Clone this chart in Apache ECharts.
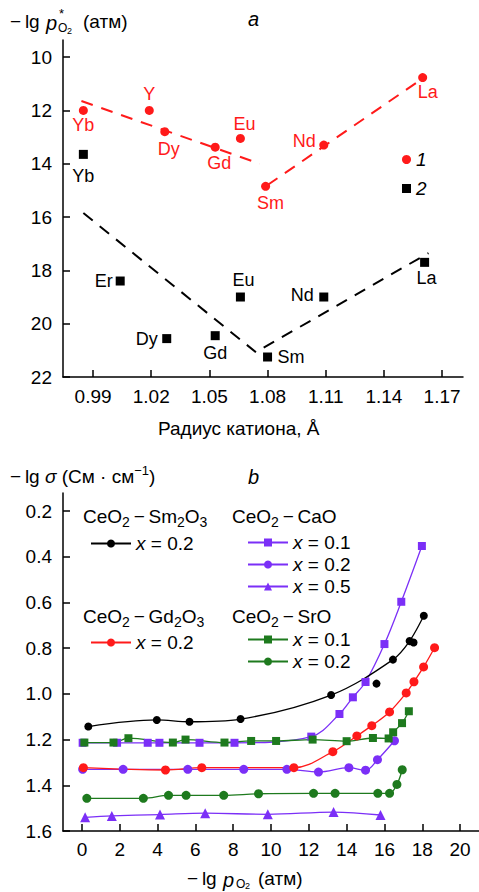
<!DOCTYPE html>
<html><head><meta charset="utf-8">
<script src="https://cdn.jsdelivr.net/npm/echarts@6/dist/echarts.min.js"></script>
<style>html,body{margin:0;padding:0;background:#fff}#c{width:479px;height:892px}</style>
</head><body><div id="c"></div>
<script>
// ---------- Panel a ----------
const cationsRed = ['Yb','Y','Dy','Gd','Eu','Sm','Nd','La'];
const radiusRed = [0.985,1.019,1.027,1.053,1.066,1.079,1.109,1.160];
const pO2Red = [12.0,12.0,12.8,13.38,13.05,14.85,13.3,10.77];
const cationsBlack = ['Yb','Er','Dy','Gd','Eu','Sm','Nd','La'];
const radiusBlack = [0.985,1.004,1.028,1.053,1.066,1.080,1.109,1.161];
const pO2Black = [13.65,18.4,20.56,20.45,19.0,21.25,19.0,17.7];
const redTrendLeftX = [0.984,1.076];
const redTrendLeftY = [11.65,14.0];
const redTrendRightX = [1.080,1.159];
const redTrendRightY = [14.8,10.85];
const blackTrendLeftX = [0.985,1.074];
const blackTrendLeftY = [15.85,21.07];
const blackTrendRightX = [1.078,1.163];
const blackTrendRightY = [20.9,17.35];
const radiusTicks = [0.99,1.02,1.05,1.08,1.11,1.14,1.17];
const pO2StarTicks = [10,12,14,16,18,20,22];

// ---------- Panel b ----------
const smX = [0.34,3.96,5.69,8.39,13.18,16.45,17.33,18.08];
const smY = [1.143,1.114,1.122,1.110,1.005,0.850,0.769,0.658];
const smExtraX = [15.58,17.54];
const smExtraY = [0.955,0.775];
const gdX = [0.08,4.42,6.34,11.21,13.27,14.54,15.33,16.27,17.15,17.56,18.07,18.65];
const gdY = [1.323,1.333,1.323,1.323,1.253,1.184,1.139,1.079,0.996,0.947,0.882,0.798];
const ca01X = [0.04,1.86,3.48,4.1,6.22,8.07,12.13,13.62,14.33,15.0,16.0,16.89,17.98];
const ca01Y = [1.214,1.214,1.214,1.214,1.214,1.214,1.187,1.088,1.015,0.948,0.782,0.597,0.353];
const ca02X = [0.04,2.18,5.6,8.56,10.84,12.51,14.12,15.0,15.63,16.53];
const ca02Y = [1.33,1.33,1.33,1.33,1.33,1.342,1.323,1.334,1.288,1.205];
const ca05X = [0.17,1.58,4.13,6.52,9.83,13.31,15.79];
const ca05Y = [1.54,1.534,1.528,1.522,1.527,1.517,1.53];
const sr01X = [0.13,1.67,2.46,4.81,5.48,7.54,8.95,10.27,12.2,14.0,15.39,16.22,16.46,16.93,17.29];
const sr01Y = [1.213,1.213,1.194,1.213,1.2,1.213,1.206,1.206,1.2,1.207,1.193,1.195,1.168,1.128,1.076];
const sr02X = [0.26,3.25,4.58,5.51,7.5,9.34,12.25,13.39,15.65,16.27,16.66,16.94];
const sr02Y = [1.457,1.457,1.444,1.444,1.444,1.437,1.435,1.435,1.435,1.435,1.396,1.332];
const lgPO2Ticks = [0,2,4,6,8,10,12,14,16,18,20];
const sigmaTicks = [0.2,0.4,0.6,0.8,1.0,1.2,1.4,1.6];
const compositions = {sm:'0.2', gd:'0.2', ca01:'0.1', ca02:'0.2', ca05:'0.5', sr01:'0.1', sr02:'0.2'};

const FONT = 'Liberation Sans, Arial, Helvetica, sans-serif';
const RED = '#ff1a1a', BLACK = '#000000', PURPLE = '#7b2ff7', GREEN = '#1e7a1e';
const zip = (xs, ys) => xs.map((x, i) => [x, ys[i]]);

const redLabel = {
  Yb:{position:'bottom',distance:1.5},
  Y:{position:'top',distance:2.5},
  Dy:{position:'bottom',distance:3.5,offset:[4,0]},
  Gd:{position:'bottom',distance:2.5,offset:[4,0]},
  Eu:{position:'top',distance:0.5,offset:[4,0]},
  Sm:{position:'bottom',distance:3.5,offset:[5,0]},
  Nd:{position:'left',distance:3.5,offset:[0,-4]},
  La:{position:'bottom',distance:0.5,offset:[5,0]}
};
const blackLabel = {
  Yb:{position:'bottom',distance:8.5},
  Er:{position:'left',distance:3},
  Dy:{position:'left',distance:4.5},
  Gd:{position:'bottom',distance:3.5},
  Eu:{position:'top',distance:3.5,offset:[3,0]},
  Sm:{position:'right',distance:5.5},
  Nd:{position:'left',distance:5.5,offset:[0,-2]},
  La:{position:'bottom',distance:2.5,offset:[2,0]}
};

function axisBase(gridIndex, extra) {
  return Object.assign({
    type:'value', gridIndex,
    axisLine:{show:true,onZero:false,lineStyle:{color:'#000',width:1.5}},
    splitLine:{show:false}
  }, extra);
}
function tickLabel(values, digits, margin) {
  return {customValues: values, color:'#000', fontSize:19, fontFamily:FONT, margin,
          formatter: v => Number(v).toFixed(digits)};
}
function ticks(values) {
  return {customValues: values, inside:true, length:7, lineStyle:{color:'#000',width:1.5}};
}

const dashed = (color) => ({color, width:2, type:[12,9]});
const lineSeries = (name, xs, ys, color, symbol, size) => ({
  name, type:'line', xAxisIndex:1, yAxisIndex:1, data: zip(xs, ys),
  smooth:0.35, symbol, symbolSize:size, showSymbol:true,
  lineStyle:{color, width:1.3}, itemStyle:{color, opacity:1}, z:3
});

const legendBase = {
  orient:'vertical', padding:0, itemWidth:40, itemHeight:10, itemGap:3,
  textStyle:{fontSize:19, fontFamily:FONT, color:'#000', rich:{i:{fontStyle:'italic', fontSize:19, fontFamily:FONT}}},
  formatter: name => '{i|x} = ' + compositions[name],
  selectedMode:false
};

const headerRich = {
  n:{fontSize:19, fontFamily:FONT, color:'#000', lineHeight:24},
  s:{fontSize:14, fontFamily:FONT, color:'#000', verticalAlign:'bottom', lineHeight:18}
};
const DASH = '\u2009−\u2009';
const header = (x, y, text) => ({type:'text', left:x, top:y, style:{text, rich:headerRich, fill:'#000'}});
const txt = (x, y, text, size, italic, extra) => ({type:'text', x, y, style:Object.assign({
  text, fontSize:size, fontFamily:FONT, fontStyle: italic ? 'italic' : 'normal', fill:'#000',
  textVerticalAlign:'middle', verticalAlign:'middle'}, extra || {})});

const labelBase = (color) => ({show:true, formatter:'{b}', color, fontSize:18, fontFamily:FONT, opacity:1, textBorderWidth:0});

const option = {
  animation:false,
  backgroundColor:'#fff',
  textStyle:{fontFamily:FONT},
  grid:[
    {left:63, top:40, width:400, height:337},
    {left:63, top:493, width:416, height:338}
  ],
  xAxis:[
    axisBase(0,{min:0.9745, max:1.1808, axisLabel:tickLabel(radiusTicks,2,10), axisTick:ticks(radiusTicks)}),
    axisBase(1,{min:-1, max:21, axisLabel:tickLabel(lgPO2Ticks,0,9), axisTick:ticks(lgPO2Ticks)})
  ],
  yAxis:[
    axisBase(0,{min:9.36, max:22, inverse:true, axisLabel:tickLabel(pO2StarTicks,0,11), axisTick:ticks(pO2StarTicks)}),
    axisBase(1,{min:0.121, max:1.6, inverse:true, axisLabel:tickLabel(sigmaTicks,1,11), axisTick:ticks(sigmaTicks)})
  ],
  legend:[
    Object.assign({}, legendBase, {data:['1','2'], left:402, top:150, itemWidth:9, itemHeight:9, itemGap:10,
      formatter: n => n, textStyle:{fontSize:19, fontStyle:'italic', fontFamily:FONT, color:'#000'}}),
    Object.assign({}, legendBase, {data:['sm'], left:90, top:534}),
    Object.assign({}, legendBase, {data:['ca01','ca02','ca05'], left:247, top:533}),
    Object.assign({}, legendBase, {data:['gd'], left:90, top:633}),
    Object.assign({}, legendBase, {data:['sr01','sr02'], left:247, top:630})
  ],
  graphic:[
    // panel a texts
    txt(10, 21, '−\u2009lg', 19, false),
    txt(46, 23, 'p', 20, true),
    txt(59, 13, '*', 13, false),
    txt(58, 28, 'O', 12, false),
    txt(67, 31, '2', 9, false),
    txt(83, 21, '(атм)', 19, false),
    txt(248, 19, 'a', 20, true),
    txt(158, 428, 'Радиус катиона, Å', 19, false),
    // panel b texts
    {type:'text', x:10, y:476, style:{text:'{n|−\u2009lg }{i|σ}{n| (См · см}{p|−1}{n|)}', textVerticalAlign:'middle', verticalAlign:'middle',
      rich:{n:{fontSize:19,fontFamily:FONT,fill:'#000',lineHeight:24}, i:{fontSize:19,fontFamily:FONT,fontStyle:'italic',lineHeight:24},
            p:{fontSize:13,fontFamily:FONT,verticalAlign:'top',lineHeight:14}}}},
    txt(248, 477, 'b', 20, true),
    txt(187, 878, '−\u2009lg', 19, false),
    txt(223, 880, 'p', 20, true),
    txt(236, 884, 'O', 12, false),
    txt(245, 886, '2', 9, false),
    txt(258, 878, '(атм)', 19, false),
    header(83, 507, '{n|CeO}{s|2}{n|' + DASH + 'Sm}{s|2}{n|O}{s|3}'),
    header(232, 507, '{n|CeO}{s|2}{n|' + DASH + 'CaO}'),
    header(83, 607, '{n|CeO}{s|2}{n|' + DASH + 'Gd}{s|2}{n|O}{s|3}'),
    header(232, 607, '{n|CeO}{s|2}{n|' + DASH + 'SrO}')
  ],
  series:[
    // panel a trend lines
    {type:'line', xAxisIndex:0, yAxisIndex:0, data:zip(redTrendLeftX, redTrendLeftY), symbol:'none', lineStyle:dashed(RED), silent:true},
    {type:'line', xAxisIndex:0, yAxisIndex:0, data:zip(redTrendRightX, redTrendRightY), symbol:'none', lineStyle:dashed(RED), silent:true},
    {type:'line', xAxisIndex:0, yAxisIndex:0, data:zip(blackTrendLeftX, blackTrendLeftY), symbol:'none', lineStyle:dashed(BLACK), silent:true},
    {type:'line', xAxisIndex:0, yAxisIndex:0, data:zip(blackTrendRightX, blackTrendRightY), symbol:'none', lineStyle:dashed(BLACK), silent:true},
    {name:'1', type:'scatter', xAxisIndex:0, yAxisIndex:0, symbol:'circle', symbolSize:9, itemStyle:{color:RED, opacity:1}, z:4,
     data: cationsRed.map((n,i)=>({name:n, value:[radiusRed[i], pO2Red[i]],
        label:Object.assign(labelBase(RED), redLabel[n])}))},
    {name:'2', type:'scatter', xAxisIndex:0, yAxisIndex:0, symbol:'rect', symbolSize:9, itemStyle:{color:BLACK, opacity:1}, z:4,
     data: cationsBlack.map((n,i)=>({name:n, value:[radiusBlack[i], pO2Black[i]],
        label:Object.assign(labelBase(BLACK), blackLabel[n])}))},
    // panel b
    lineSeries('ca05', ca05X, ca05Y, PURPLE, 'triangle', 10),
    lineSeries('ca02', ca02X, ca02Y, PURPLE, 'circle', 9),
    lineSeries('gd', gdX, gdY, RED, 'circle', 9),
    lineSeries('ca01', ca01X, ca01Y, PURPLE, 'rect', 8),
    lineSeries('sr02', sr02X, sr02Y, GREEN, 'circle', 9),
    lineSeries('sr01', sr01X, sr01Y, GREEN, 'rect', 8),
    lineSeries('sm', smX, smY, BLACK, 'circle', 8),
    {type:'scatter', xAxisIndex:1, yAxisIndex:1, data:zip(smExtraX, smExtraY), symbol:'circle', symbolSize:8, itemStyle:{color:BLACK, opacity:1}, z:4}
  ]
};
const chart = echarts.init(document.getElementById('c'), null, {renderer:'svg', width:479, height:892});
chart.setOption(option);
</script>
</body></html>
